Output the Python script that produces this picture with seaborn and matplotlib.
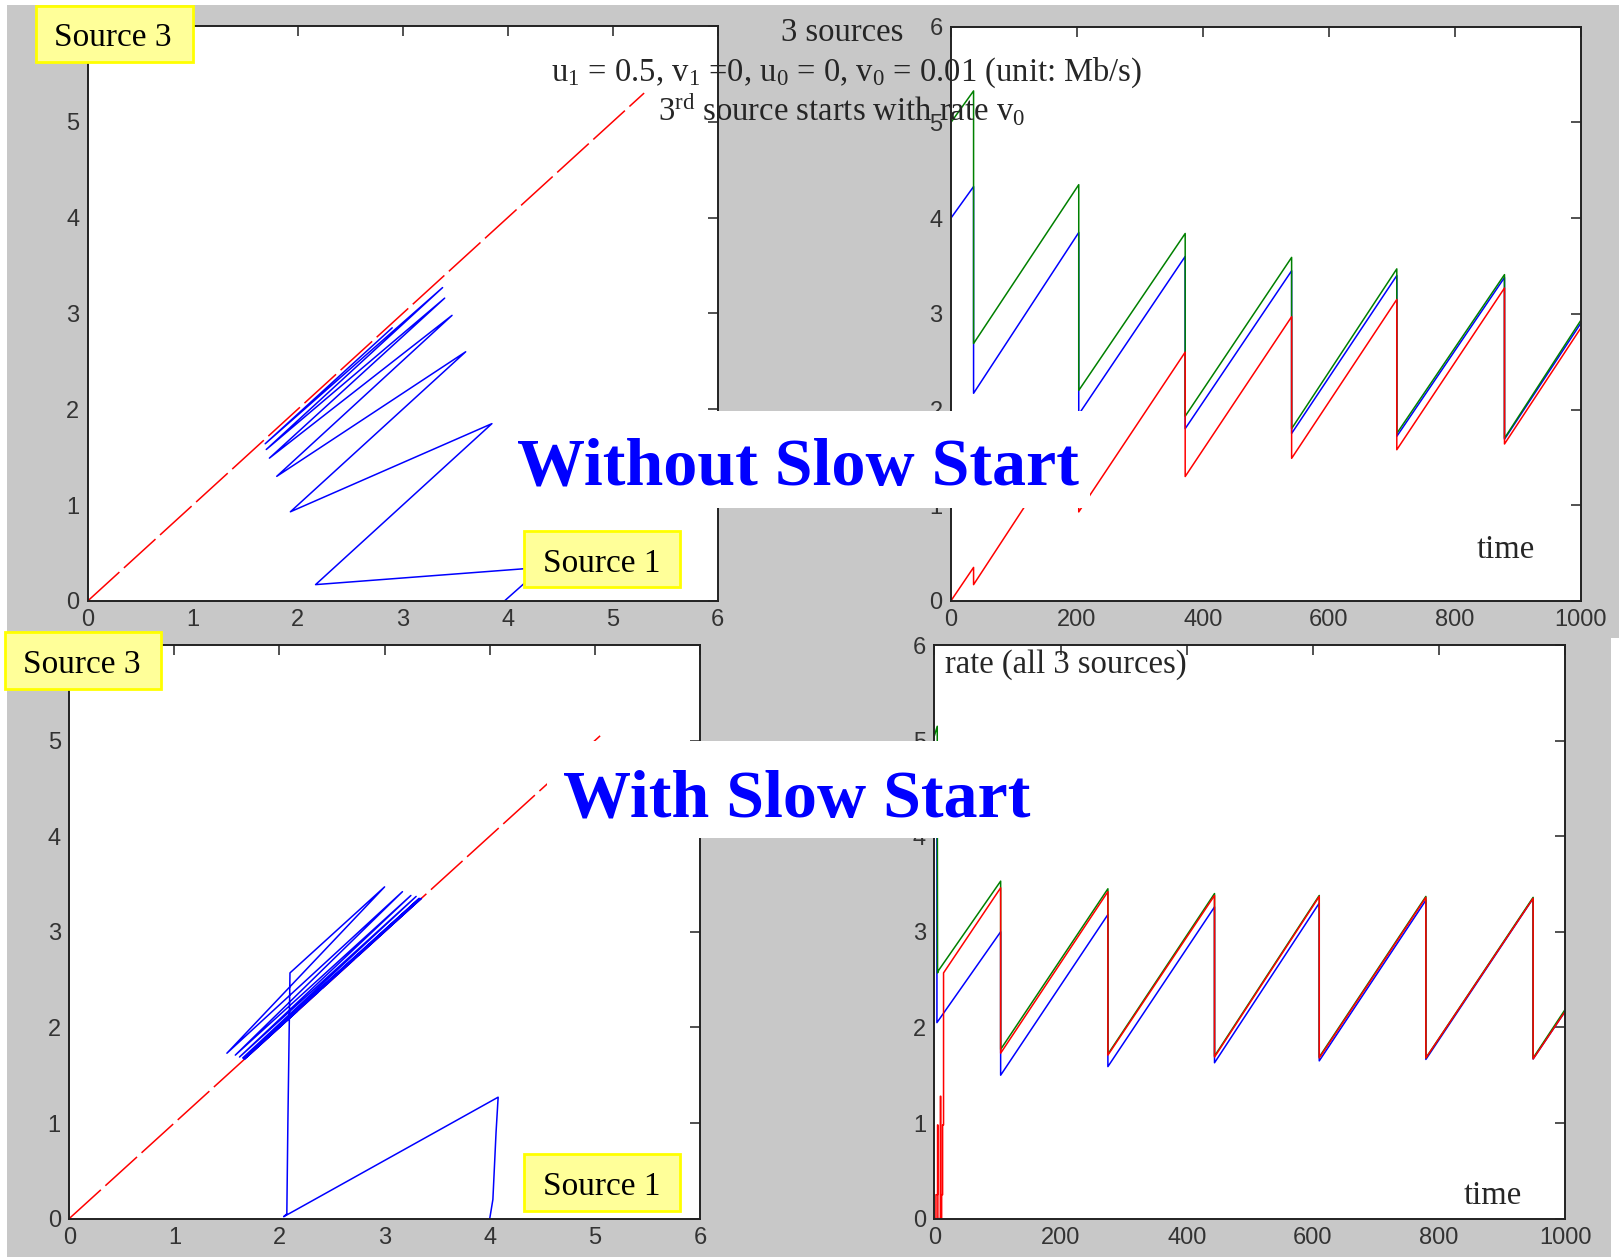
import matplotlib
matplotlib.use("Agg")
import matplotlib.pyplot as plt
from matplotlib.patches import Rectangle
import seaborn as sns

# ---------------- data ----------------
# Without slow start: rate vs time (vertices of the sawtooth)
t_ns = [0, 36, 36, 203, 203, 372, 372, 541, 541, 708, 708, 879, 879, 1000]
green_ns = [5.0, 5.33, 2.69, 4.35, 2.2, 3.84, 1.93, 3.59, 1.8, 3.47, 1.75, 3.41, 1.7, 2.93]
blue_ns = [4.0, 4.33, 2.17, 3.85, 1.95, 3.6, 1.8, 3.45, 1.75, 3.4, 1.72, 3.38, 1.69, 2.9]
red_ns = [0.0, 0.35, 0.17, 1.85, 0.93, 2.6, 1.3, 2.97, 1.49, 3.15, 1.58, 3.27, 1.64, 2.85]

# Without slow start: phase plot (source 1 vs source 3)
src1_ns = [3.97, 4.33, 2.17, 3.85, 1.93, 3.6, 1.8, 3.47, 1.73, 3.4, 1.7, 3.38, 1.69, 2.9]
src3_ns = [0.0, 0.35, 0.17, 1.85, 0.93, 2.6, 1.3, 2.98, 1.49, 3.16, 1.58, 3.27, 1.64, 2.85]
diag_ns = [0.0, 5.3]

# With slow start: rate vs time
t_ss_red = [0, 2.5, 2.5, 5, 5, 5.5, 5.5, 9.5, 9.5, 10, 10, 11.5, 11.5, 13, 13, 14.5, 14.5,
            105, 105, 275, 275, 444, 444, 610, 610, 779, 779, 949, 949, 1000]
red_ss = [0, 0, 0.25, 0.25, 0.98, 0.98, 0, 0, 1.28, 1.28, 0, 0, 0.25, 0.25, 0.98, 0.98, 2.57,
          3.46, 1.73, 3.42, 1.71, 3.38, 1.69, 3.37, 1.68, 3.36, 1.68, 3.35, 1.67, 2.17]
t_ss_green = [0, 4.5, 5, 7, 105, 105, 275, 275, 444, 444, 610, 610, 779, 779, 949, 949, 1000]
green_ss = [5.05, 5.15, 2.57, 2.6, 3.53, 1.77, 3.45, 1.72, 3.40, 1.70, 3.38, 1.69, 3.37, 1.68, 3.36, 1.68, 2.19]
t_ss_blue = [0, 4, 4, 105, 105, 275, 275, 444, 444, 610, 610, 779, 779, 949, 949, 1000]
blue_ss = [4.0, 4.04, 2.05, 3.0, 1.5, 3.18, 1.59, 3.26, 1.63, 3.3, 1.65, 3.33, 1.665, 3.35, 1.67, 2.17]

# With slow start: phase plot (source 1 vs source 3)
src1_ss = [4.0, 4.03, 4.06, 4.08, 2.04, 2.07, 2.08, 2.1, 3.0, 1.5, 3.17, 1.58, 3.25, 1.62,
           3.3, 1.65, 3.33, 1.66, 3.35, 1.67, 2.17]
src3_ss = [0.0, 0.2, 0.9, 1.27, 0.02, 0.05, 1.0, 2.57, 3.47, 1.73, 3.42, 1.71, 3.38, 1.69,
           3.37, 1.68, 3.35, 1.67, 3.35, 1.67, 2.17]
diag_ss = [0.0, 5.05]

phase_ticks = [0, 1, 2, 3, 4, 5, 6]
time_ticks = [0, 200, 400, 600, 800, 1000]
rate_ticks = [0, 1, 2, 3, 4, 5, 6]

# ---------------- style ----------------
sns.set_style("white")
plt.rcParams["font.family"] = ["Liberation Sans Narrow", "Liberation Sans", "DejaVu Sans"]
plt.rcParams["mathtext.fontset"] = "custom"
plt.rcParams["mathtext.rm"] = "Liberation Serif"
plt.rcParams["mathtext.it"] = "Liberation Serif:italic"

W, H = 1619, 1257
GRAY = "#c8c8c8"
BLUE, GREEN, RED = "#0000ff", "#008000", "#ff0000"
SERIF = ["Liberation Serif", "DejaVu Serif"]

fig = plt.figure(figsize=(W / 100, H / 100), dpi=100, facecolor=GRAY)


def add_ax(left, top, right, bottom):
    return fig.add_axes([left / W, 1 - bottom / H, (right - left) / W, (bottom - top) / H])


def style_ax(ax, xlim, xticks):
    ax.set_facecolor("white")
    ax.set_xlim(*xlim)
    ax.set_ylim(0, 6)
    ax.set_xticks(xticks)
    ax.set_yticks(rate_ticks)
    ax.set_xlabel("")
    ax.set_ylabel("")
    ax.tick_params(direction="in", length=7, width=1.1, top=True, right=True,
                   labelsize=17, pad=6, color="#222222", labelcolor="#333333")
    for s in ax.spines.values():
        s.set_visible(True)
        s.set_linewidth(1.4)
        s.set_color("#222222")


def rect_px(x0, y0, x1, y1, fc, ec="none", lw=0, z=5):
    fig.add_artist(Rectangle((x0 / W, 1 - y1 / H), (x1 - x0) / W, (y1 - y0) / H,
                             transform=fig.transFigure, facecolor=fc, edgecolor=ec,
                             linewidth=lw, zorder=z))


def text_px(x, y, s, size, ha="center", va="baseline", **kw):
    fig.text(x / W, 1 - y / H, s, fontsize=size, ha=ha, va=va, zorder=10, **kw)


# background white strips (screenshot edges)
rect_px(0, 0, 7, H, "white", z=-1)
rect_px(0, 0, W, 5, "white", z=-1)
rect_px(1611, 638, W, H, "white", z=-1)

# ---------------- axes ----------------
ax_tl = add_ax(87.8, 26.0, 717.6, 600.9)
ax_tr = add_ax(950.9, 26.8, 1580.7, 600.9)
ax_bl = add_ax(69.2, 645.0, 700.0, 1218.6)
ax_br = add_ax(934.4, 645.0, 1565.3, 1218.6)

dash = (0, (28, 4))

# top-left phase plot
sns.lineplot(x=diag_ns, y=diag_ns, ax=ax_tl, color=RED, lw=1.1, linestyle=dash,
             sort=False, estimator=None)
sns.lineplot(x=src1_ns, y=src3_ns, ax=ax_tl, color=BLUE, lw=1.1, sort=False, estimator=None)
style_ax(ax_tl, (0, 6), phase_ticks)

# top-right time series
sns.lineplot(x=t_ns, y=blue_ns, ax=ax_tr, color=BLUE, lw=1.1, sort=False, estimator=None)
sns.lineplot(x=t_ns, y=green_ns, ax=ax_tr, color=GREEN, lw=1.1, sort=False, estimator=None)
sns.lineplot(x=t_ns, y=red_ns, ax=ax_tr, color=RED, lw=1.1, sort=False, estimator=None)
style_ax(ax_tr, (0, 1000), time_ticks)

# bottom-left phase plot
sns.lineplot(x=diag_ss, y=diag_ss, ax=ax_bl, color=RED, lw=1.1, linestyle=dash,
             sort=False, estimator=None)
sns.lineplot(x=src1_ss, y=src3_ss, ax=ax_bl, color=BLUE, lw=1.1, sort=False, estimator=None)
style_ax(ax_bl, (0, 6), phase_ticks)

# bottom-right time series
sns.lineplot(x=t_ss_blue, y=blue_ss, ax=ax_br, color=BLUE, lw=1.1, sort=False, estimator=None)
sns.lineplot(x=t_ss_green, y=green_ss, ax=ax_br, color=GREEN, lw=1.1, sort=False, estimator=None)
sns.lineplot(x=t_ss_red, y=red_ss, ax=ax_br, color=RED, lw=1.1, sort=False, estimator=None)
style_ax(ax_br, (0, 1000), time_ticks)

# ---------------- annotations ----------------
# title block
text_px(842, 41, "3 sources", 23.5, family=SERIF)
text_px(846, 81, r"u$_1$ = 0.5, v$_1$ =0, u$_0$ = 0, v$_0$ = 0.01 (unit: Mb/s)", 23.5, family=SERIF)
text_px(842, 121, r"3$^{\mathrm{rd}}$ source starts with rate v$_0$", 23.5, family=SERIF)

# axis annotations
text_px(1506, 558, "time", 23.5, family=SERIF)
text_px(1493, 1204, "time", 23.5, family=SERIF)
text_px(945, 673, "rate (all 3 sources)", 23.5, ha="left", family=SERIF)

# yellow source labels
YFC, YEC = "#ffff99", "#ffff00"
for (x0, y0, x1, y1, cx, base, s) in [
    (36, 6, 193, 62, 113, 46, "Source 3"),
    (524, 531, 680, 587, 601.5, 572, "Source 1"),
    (5, 632, 161, 689, 81.5, 673, "Source 3"),
    (524, 1154, 680, 1211, 601.5, 1195, "Source 1"),
]:
    rect_px(x0, y0, x1, y1, YFC, ec=YEC, lw=2, z=6)
    text_px(cx, base, s, 24, family=SERIF, color="black")

# big white banners
rect_px(506, 411, 1090, 508, "white", z=7)
text_px(797.5, 485, "Without Slow Start", 49, family=SERIF, weight="bold", color=BLUE)
rect_px(547, 741, 1030, 838, "white", z=7)
text_px(797, 816, "With Slow Start", 49, family=SERIF, weight="bold", color=BLUE)

fig.savefig("out.png", dpi=100, facecolor=fig.get_facecolor())
